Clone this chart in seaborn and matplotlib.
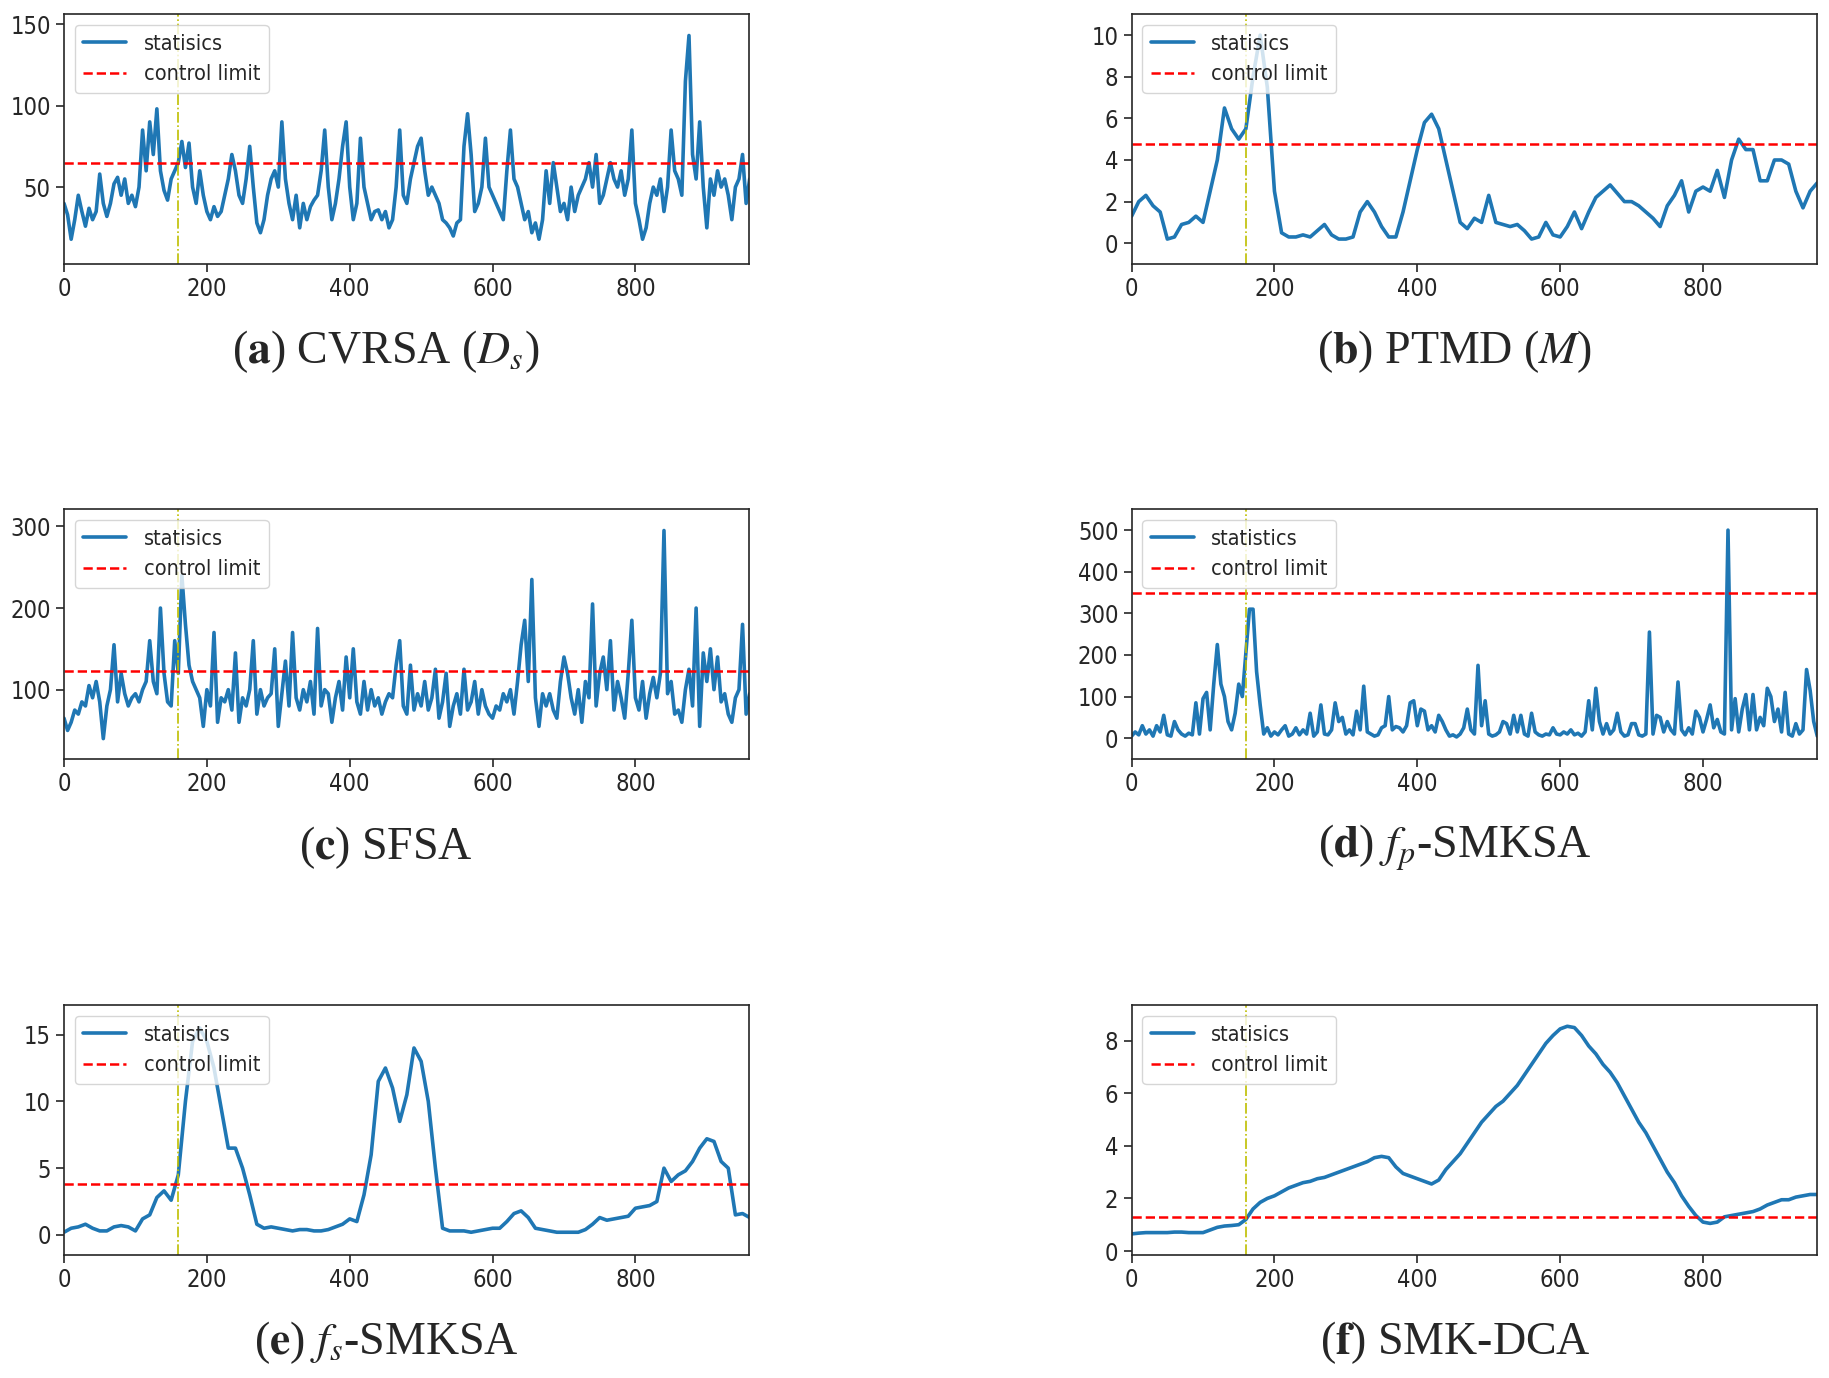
import numpy as np
import pandas as pd
import seaborn as sns
from matplotlib import pyplot as plt

sns.set_style('ticks')
plt.rcParams['font.family'] = ['DejaVu Sans']
plt.rcParams['font.stretch'] = 'condensed'
plt.rcParams['mathtext.fontset'] = 'stix'

# change point and sampling steps (x units between listed values)
change_point = 160
step_noisy = 5
step_smooth = 10

# (a) CVRSA, every 5 samples
stat_a = [40, 33, 18, 30, 45, 35, 26, 37, 30, 35, 58, 40, 32, 40, 52, 56, 45, 55, 40, 45,
          38, 50, 85, 60, 90, 70, 98, 60, 48, 42, 55, 60, 65, 78, 62, 77, 50, 40, 60, 45,
          35, 30, 38, 32, 35, 45, 55, 70, 60, 45, 40, 55, 75, 50, 28, 22, 30, 45, 55, 60,
          50, 90, 55, 40, 30, 45, 25, 40, 30, 38, 42, 45, 60, 85, 50, 30, 40, 55, 75, 90,
          50, 30, 40, 80, 50, 40, 30, 35, 36, 30, 35, 25, 30, 50, 85, 45, 40, 55, 65, 75,
          80, 60, 45, 50, 45, 40, 30, 28, 25, 20, 28, 30, 75, 95, 70, 35, 40, 50, 80, 50,
          45, 40, 35, 30, 60, 85, 55, 50, 40, 30, 35, 22, 28, 18, 30, 60, 40, 65, 50, 35,
          40, 30, 50, 35, 45, 50, 55, 65, 50, 70, 40, 45, 55, 65, 55, 50, 60, 45, 55, 85,
          40, 30, 18, 25, 40, 50, 45, 55, 35, 50, 85, 60, 55, 45, 115, 143, 70, 55, 90, 50,
          25, 55, 45, 60, 50, 55, 45, 30, 50, 55, 70, 40, 55]
limit_a = 65

# (b) PTMD, every 10 samples
stat_b = [1.3, 2.0, 2.3, 1.8, 1.5, 0.2, 0.3, 0.9, 1.0, 1.3, 1.0, 2.5, 4.0, 6.5, 5.5, 5.0,
          5.5, 8.0, 10.0, 7.5, 2.5, 0.5, 0.3, 0.3, 0.4, 0.3, 0.6, 0.9, 0.4, 0.2, 0.2, 0.3,
          1.5, 2.0, 1.5, 0.8, 0.3, 0.3, 1.5, 3.0, 4.5, 5.8, 6.2, 5.5, 4.0, 2.5, 1.0, 0.7,
          1.2, 1.0, 2.3, 1.0, 0.9, 0.8, 0.9, 0.6, 0.2, 0.3, 1.0, 0.4, 0.3, 0.8, 1.5, 0.7,
          1.5, 2.2, 2.5, 2.8, 2.4, 2.0, 2.0, 1.8, 1.5, 1.2, 0.8, 1.8, 2.3, 3.0, 1.5, 2.5,
          2.7, 2.5, 3.5, 2.2, 4.0, 5.0, 4.5, 4.5, 3.0, 3.0, 4.0, 4.0, 3.8, 2.5, 1.7, 2.5, 2.9]
limit_b = 4.75

# (c) SFSA, every 5 samples
stat_c = [65, 50, 60, 75, 70, 85, 80, 105, 90, 110, 85, 40, 80, 100, 155, 85, 120, 95, 80, 90,
          95, 85, 100, 110, 160, 110, 95, 200, 120, 85, 80, 160, 120, 240, 180, 130, 110, 100, 90, 55,
          100, 80, 170, 60, 90, 85, 100, 75, 145, 60, 90, 80, 100, 160, 70, 100, 80, 90, 95, 150,
          55, 95, 135, 80, 170, 90, 75, 100, 85, 110, 70, 175, 80, 100, 95, 60, 90, 110, 75, 140,
          90, 150, 85, 70, 110, 75, 100, 80, 90, 70, 85, 95, 90, 130, 160, 80, 70, 130, 75, 95,
          80, 110, 75, 90, 125, 65, 85, 120, 55, 80, 95, 70, 125, 75, 85, 110, 70, 100, 80, 70,
          65, 80, 75, 95, 85, 100, 70, 110, 155, 185, 110, 235, 90, 55, 95, 80, 95, 75, 65, 110,
          140, 120, 90, 70, 100, 60, 110, 90, 205, 80, 120, 140, 100, 160, 75, 110, 90, 65, 120, 185,
          90, 75, 110, 65, 95, 115, 90, 120, 295, 95, 110, 70, 75, 60, 100, 125, 80, 200, 55, 145,
          110, 150, 100, 140, 85, 95, 70, 60, 90, 100, 180, 70, 95]
limit_c = 123

# (d) fp-SMKSA, every 5 samples
stat_d = [5, 15, 8, 30, 10, 20, 5, 30, 15, 55, 8, 5, 40, 20, 10, 5, 12, 8, 85, 10,
          95, 110, 20, 130, 225, 130, 100, 40, 20, 60, 130, 100, 205, 310, 310, 160, 80, 10, 25, 5,
          15, 8, 20, 30, 5, 10, 25, 8, 20, 10, 60, 5, 15, 80, 10, 8, 20, 85, 40, 50,
          10, 20, 8, 65, 20, 125, 15, 10, 5, 8, 25, 30, 100, 20, 28, 25, 15, 30, 85, 90,
          30, 70, 65, 20, 30, 15, 55, 40, 20, 5, 8, 3, 10, 25, 70, 20, 10, 175, 30, 90,
          10, 5, 8, 15, 40, 35, 10, 55, 15, 55, 10, 5, 60, 15, 8, 5, 10, 8, 25, 10,
          8, 15, 10, 20, 8, 12, 5, 15, 90, 20, 120, 40, 10, 35, 10, 20, 60, 15, 5, 8,
          35, 35, 8, 5, 10, 255, 10, 55, 50, 15, 40, 20, 10, 135, 20, 8, 25, 10, 65, 50,
          15, 45, 80, 25, 45, 15, 10, 500, 20, 95, 15, 70, 105, 20, 105, 20, 50, 30, 120, 100,
          40, 70, 15, 110, 10, 5, 35, 10, 20, 165, 115, 40, 5]
limit_d = 348

# (e) fs-SMKSA, every 10 samples
stat_e = [0.2, 0.5, 0.6, 0.8, 0.5, 0.3, 0.3, 0.6, 0.7, 0.6, 0.3, 1.2, 1.5, 2.8, 3.3, 2.6,
          4.5, 10.0, 14.5, 15.5, 14.5, 12.5, 9.5, 6.5, 6.5, 5.0, 3.0, 0.8, 0.5, 0.6, 0.5, 0.4,
          0.3, 0.4, 0.4, 0.3, 0.3, 0.4, 0.6, 0.8, 1.2, 1.0, 3.0, 6.0, 11.5, 12.5, 11.0, 8.5,
          10.5, 14.0, 13.0, 10.0, 5.0, 0.5, 0.3, 0.3, 0.3, 0.2, 0.3, 0.4, 0.5, 0.5, 1.0, 1.6,
          1.8, 1.3, 0.5, 0.4, 0.3, 0.2, 0.2, 0.2, 0.2, 0.4, 0.8, 1.3, 1.1, 1.2, 1.3, 1.4,
          2.0, 2.1, 2.2, 2.5, 5.0, 4.0, 4.5, 4.8, 5.5, 6.5, 7.2, 7.0, 5.5, 5.0, 1.5, 1.6, 1.3]
limit_e = 3.85

# (f) SMK-DCA, every 10 samples
stat_f = [0.65, 0.68, 0.7, 0.7, 0.7, 0.7, 0.72, 0.72, 0.7, 0.7, 0.7, 0.8, 0.9, 0.95, 0.97, 1.0,
          1.2, 1.6, 1.85, 2.0, 2.1, 2.25, 2.4, 2.5, 2.6, 2.65, 2.75, 2.8, 2.9, 3.0, 3.1, 3.2,
          3.3, 3.4, 3.55, 3.6, 3.55, 3.2, 2.95, 2.85, 2.75, 2.65, 2.55, 2.7, 3.1, 3.4, 3.7, 4.1,
          4.5, 4.9, 5.2, 5.5, 5.7, 6.0, 6.3, 6.7, 7.1, 7.5, 7.9, 8.2, 8.45, 8.55, 8.5, 8.2,
          7.8, 7.5, 7.1, 6.8, 6.4, 5.9, 5.4, 4.9, 4.5, 4.0, 3.5, 3.0, 2.6, 2.1, 1.7, 1.35,
          1.1, 1.05, 1.1, 1.3, 1.35, 1.4, 1.45, 1.5, 1.6, 1.75, 1.85, 1.95, 1.95, 2.05, 2.1, 2.15, 2.15]
limit_f = 1.3

legend_labels = ['statisics', 'statisics', 'statisics', 'statistics', 'statistics', 'statisics']
captions = [r'($\mathbf{a}$) CVRSA ($D_s$)', r'($\mathbf{b}$) PTMD ($M$)',
            r'($\mathbf{c}$) SFSA', r'($\mathbf{d}$) $f_p$-SMKSA',
            r'($\mathbf{e}$) $f_s$-SMKSA', r'($\mathbf{f}$) SMK-DCA']

panels = [
    (stat_a, step_noisy, limit_a, (2.8, 156), [50, 100, 150]),
    (stat_b, step_smooth, limit_b, (-1, 11), [0, 2, 4, 6, 8, 10]),
    (stat_c, step_noisy, limit_c, (15, 321), [100, 200, 300]),
    (stat_d, step_noisy, limit_d, (-50, 550), [0, 100, 200, 300, 400, 500]),
    (stat_e, step_smooth, limit_e, (-1.5, 17.2), [0, 5, 10, 15]),
    (stat_f, step_smooth, limit_f, (-0.15, 9.35), [0, 2, 4, 6, 8]),
]

fig = plt.figure(figsize=(18.29, 13.78), dpi=100)
lefts = [0.035, 0.6187]
bottoms = [0.8084, 0.4492, 0.0893]
caption_x = [0.211, 0.7955]
caption_y = [0.745, 0.385, 0.026]

for ii, (vals, step, limit, ylim, yticks) in enumerate(panels):
    row, col = ii // 2, ii % 2
    ax = fig.add_axes([lefts[col], bottoms[row], 0.3745, 0.1812])
    df = pd.DataFrame({'x': np.arange(len(vals)) * step, 'y': vals})
    sns.lineplot(data=df, x='x', y='y', ax=ax, color='#1f77b4', linewidth=2.6,
                 label=legend_labels[ii])
    ax.axhline(limit, color='red', linestyle='--', linewidth=1.8, label='control limit')
    ax.axvline(change_point, color='y', linestyle='-.', linewidth=1.2)
    ax.set(xlim=(0, 959), ylim=ylim, xlabel='', ylabel='')
    ax.set_xticks([0, 200, 400, 600, 800])
    ax.set_yticks(yticks)
    ax.tick_params(labelsize=17, length=6, width=1.2)
    for sp in ax.spines.values():
        sp.set_linewidth(1.2)
    ax.legend(loc='upper left', fontsize=15.5, borderaxespad=0.5, handlelength=2.0)
    fig.text(caption_x[col], caption_y[row], captions[ii], ha='center', va='center',
             fontsize=33, family='Liberation Serif')

fig.savefig('out.png', dpi=100)
